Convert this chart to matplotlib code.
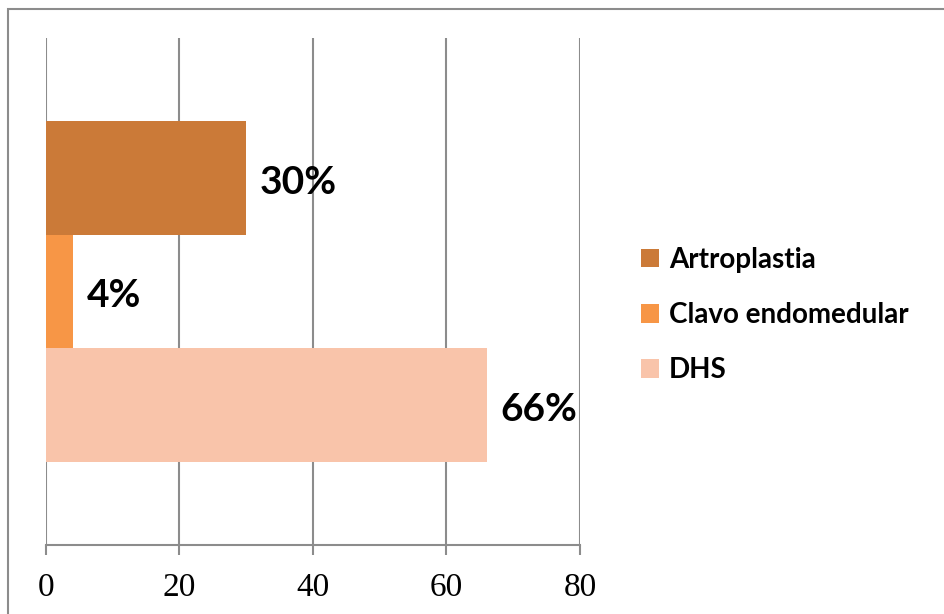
import matplotlib.pyplot as plt
from matplotlib.patches import Rectangle, Patch

# data
categories = ["Artroplastia", "Clavo endomedular", "DHS"]
values = [30, 4, 66]
labels = ["30%", "4%", "66%"]
colors = ["#CB7A38", "#F79646", "#F9C4AA"]
xticks = [0, 20, 40, 60, 80]

fig = plt.figure(figsize=(9.45, 6.14), dpi=100)
ax = fig.add_axes([46 / 945, 1 - 545 / 614, (580 - 46) / 945, (545 - 38) / 614])

# one category, three bars stacked vertically around the centre
bar_h = 0.224
for i, (val, col) in enumerate(zip(values, colors)):
    y = (i - 1) * bar_h
    ax.annotate(labels[i], (val, y), xytext=(10, -3), textcoords="offset points",
                ha="left", va="center", fontsize=28, fontweight="bold",
                family="Lato", color="black", zorder=4)
    ax.barh(y, val, height=bar_h, color=col, zorder=3)

ax.set_xlim(0, 80)
ax.set_ylim(0.5, -0.5)
ax.set_xticks(xticks)
ax.set_xticklabels([str(t) for t in xticks], family="Liberation Serif", fontsize=24)
ax.set_yticks([])
ax.grid(axis="x", color="#8C8C8C", linewidth=1.5, zorder=0)
for s in ["top", "right", "left"]:
    ax.spines[s].set_visible(False)
ax.spines["bottom"].set_color("#8C8C8C")
ax.spines["bottom"].set_linewidth(1.5)
ax.tick_params(axis="x", length=7, width=1.5, color="#8C8C8C", pad=13)

# outer frame of the chart area
fig.patches.append(Rectangle((8 / 945, -0.2), 1.2, 1.2 - 9 / 614, transform=fig.transFigure,
                             fill=False, edgecolor="#8C8C8C", linewidth=1.5))

handles = [Patch(facecolor=c, edgecolor="none") for c in colors]
leg = fig.legend(handles, categories, loc="center left", bbox_to_anchor=(641 / 945, 1 - 315 / 614),
                 frameon=False, prop={"family": "Lato", "weight": "bold", "size": 20},
                 handlelength=0.65, handleheight=0.65, handletextpad=0.35,
                 labelspacing=1.05, borderpad=0, borderaxespad=0)

fig.savefig("out.png", dpi=100)
